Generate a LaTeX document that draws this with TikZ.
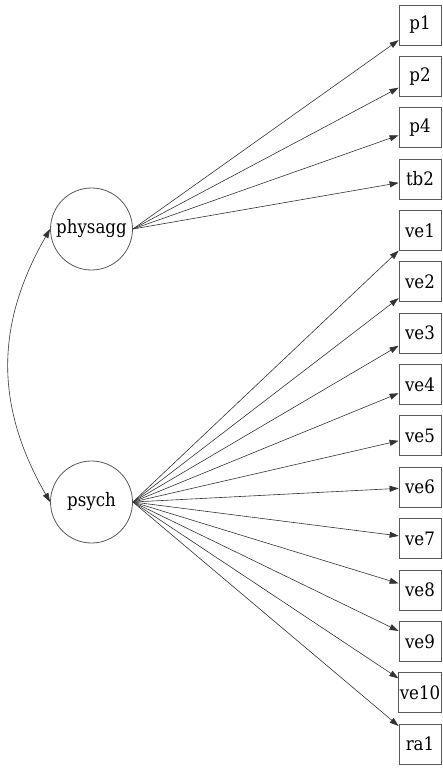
\documentclass[tikz,border=0pt]{standalone}
\usepackage{fontspec}
\setmainfont{DejaVu Serif}[FakeStretch=0.9]
\usetikzlibrary{arrows.meta}
\begin{document}
\begin{tikzpicture}[x=1pt,y=1pt,
  latent/.style={circle,draw=black!65,line width=0.8pt,minimum size=82pt,inner sep=0pt,font=\fontsize{18.5}{20}\selectfont},
  manifest/.style={rectangle,draw=black!65,line width=0.8pt,minimum width=42pt,minimum height=40pt,inner sep=1pt,font=\fontsize{18.5}{20}\selectfont},
  load/.style={draw=black!80,line width=0.6pt,-{Triangle[length=9pt,width=6pt]}},
  cov/.style={draw=black!80,line width=0.6pt,{Triangle[length=9pt,width=6pt]}-{Triangle[length=9pt,width=6pt]}}]
\useasboundingbox (0,0) rectangle (442,-771);
\node[latent] (phys) at (91.5,-229) {physagg};
\node[latent] (psych) at (91.5,-502) {psych};
\foreach \n [count=\i from 0] in {p1,p2,p4,tb2,ve1,ve2,ve3,ve4,ve5,ve6,ve7,ve8,ve9,ve10,ra1}{
  \node[manifest] (\n) at (420,{-25-51.36*\i}) {\n};
}
\foreach \n in {p1,p2,p4,tb2}{ \draw[load] (phys.east) -- (\n); }
\foreach \n in {ve1,ve2,ve3,ve4,ve5,ve6,ve7,ve8,ve9,ve10,ra1}{ \draw[load] (psych.east) -- (\n); }
\draw[cov] (phys.west) .. controls (-5,-325) and (-5,-406) .. (psych.west);
\end{tikzpicture}
\end{document}
